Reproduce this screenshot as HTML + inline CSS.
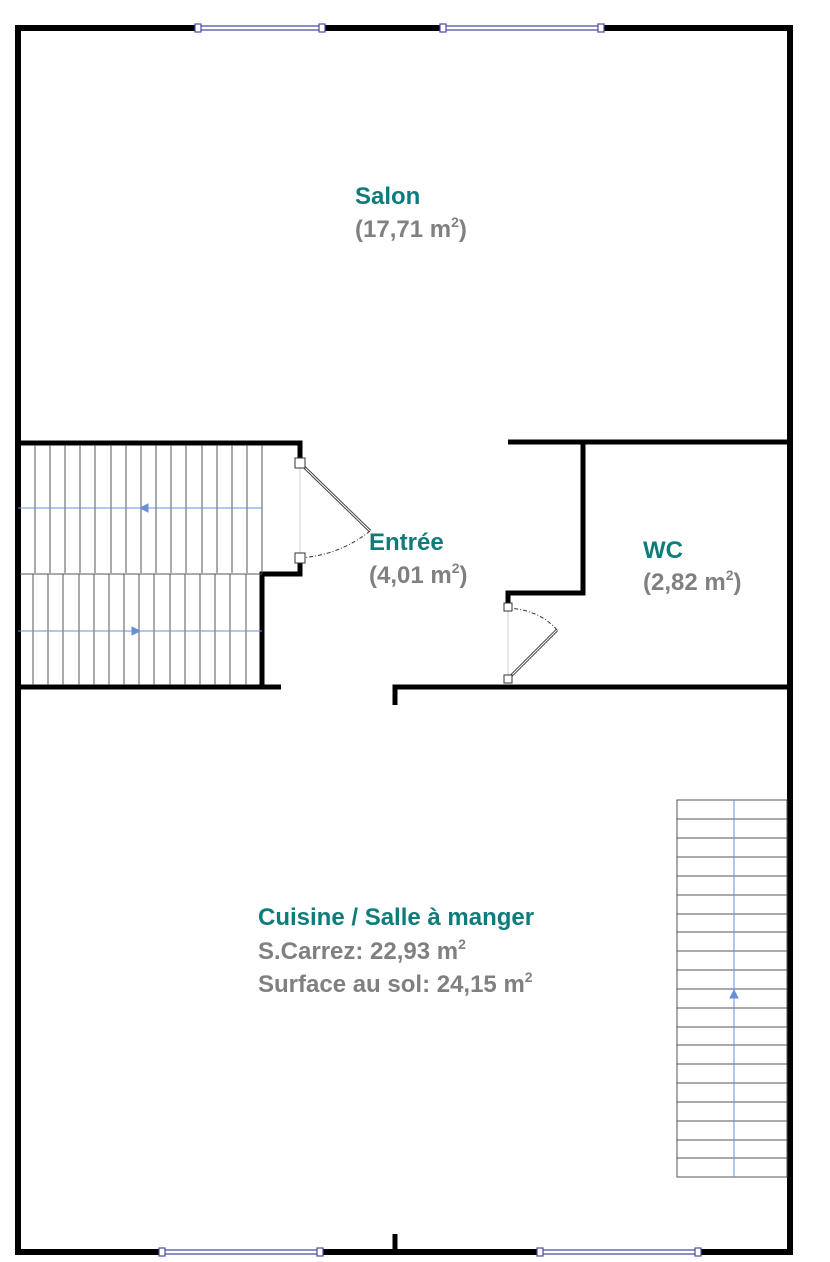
<!DOCTYPE html>
<html><head><meta charset="utf-8"><style>
html,body{margin:0;padding:0;background:#fff;}
svg{display:block;}
.t{font-family:"Liberation Sans",sans-serif;font-weight:bold;font-size:24px;}
.n{fill:#0e7c7b;}
.g{fill:#808080;}
</style></head><body>
<svg width="830" height="1262" viewBox="0 0 830 1262" xmlns="http://www.w3.org/2000/svg">
<g stroke="#000" fill="none" stroke-width="6">
  <line x1="15" y1="28" x2="198" y2="28"/>
  <line x1="322" y1="28" x2="443" y2="28"/>
  <line x1="601" y1="28" x2="793" y2="28"/>
  <line x1="18" y1="25" x2="18" y2="1255"/>
  <line x1="790" y1="25" x2="790" y2="1255"/>
  <line x1="15" y1="1252" x2="162" y2="1252"/>
  <line x1="320" y1="1252" x2="540" y2="1252"/>
  <line x1="698" y1="1252" x2="793" y2="1252"/>
  <line x1="395" y1="1234" x2="395" y2="1252" stroke-width="5"/>
  <polyline points="18,443 300,443 300,462" stroke-width="5"/>
  <polyline points="300,559 300,574 262,574 262,687" stroke-width="5"/>
  <line x1="18" y1="687" x2="281" y2="687" stroke-width="5"/>
  <line x1="508" y1="442" x2="790" y2="442" stroke-width="5"/>
  <polyline points="583,442 583,593 508,593 508,607" stroke-width="5"/>
  <polyline points="395,705 395,687 790,687" stroke-width="5"/>
</g>
<g stroke="#4a4aa0" stroke-width="1.2" fill="#fff">
  <line x1="198" y1="26" x2="322" y2="26"/><line x1="198" y1="30" x2="322" y2="30"/>
  <line x1="443" y1="26" x2="601" y2="26"/><line x1="443" y1="30" x2="601" y2="30"/>
  <line x1="162" y1="1250" x2="320" y2="1250"/><line x1="162" y1="1254" x2="320" y2="1254"/>
  <line x1="540" y1="1250" x2="698" y2="1250"/><line x1="540" y1="1254" x2="698" y2="1254"/>
  <rect x="195" y="24" width="6" height="8"/><rect x="319" y="24" width="6" height="8"/>
  <rect x="440" y="24" width="6" height="8"/><rect x="598" y="24" width="6" height="8"/>
  <rect x="159" y="1248" width="6" height="8"/><rect x="317" y="1248" width="6" height="8"/>
  <rect x="537" y="1248" width="6" height="8"/><rect x="695" y="1248" width="6" height="8"/>
</g>
<g stroke="#555" stroke-width="1">
  <line x1="35" y1="445" x2="35" y2="573"/><line x1="50" y1="445" x2="50" y2="573"/><line x1="65" y1="445" x2="65" y2="573"/><line x1="80" y1="445" x2="80" y2="573"/><line x1="95" y1="445" x2="95" y2="573"/><line x1="111" y1="445" x2="111" y2="573"/><line x1="126" y1="445" x2="126" y2="573"/><line x1="141" y1="445" x2="141" y2="573"/><line x1="156" y1="445" x2="156" y2="573"/><line x1="171" y1="445" x2="171" y2="573"/><line x1="186" y1="445" x2="186" y2="573"/><line x1="202" y1="445" x2="202" y2="573"/><line x1="217" y1="445" x2="217" y2="573"/><line x1="232" y1="445" x2="232" y2="573"/><line x1="247" y1="445" x2="247" y2="573"/><line x1="262" y1="445" x2="262" y2="573"/>
  <line x1="20" y1="574" x2="262" y2="574"/>
  <line x1="33" y1="574" x2="33" y2="685"/><line x1="48" y1="574" x2="48" y2="685"/><line x1="63" y1="574" x2="63" y2="685"/><line x1="79" y1="574" x2="79" y2="685"/><line x1="94" y1="574" x2="94" y2="685"/><line x1="109" y1="574" x2="109" y2="685"/><line x1="124" y1="574" x2="124" y2="685"/><line x1="139" y1="574" x2="139" y2="685"/><line x1="154" y1="574" x2="154" y2="685"/><line x1="170" y1="574" x2="170" y2="685"/><line x1="185" y1="574" x2="185" y2="685"/><line x1="200" y1="574" x2="200" y2="685"/><line x1="215" y1="574" x2="215" y2="685"/><line x1="230" y1="574" x2="230" y2="685"/><line x1="246" y1="574" x2="246" y2="685"/>
</g>
<g stroke="#6a8fd8" stroke-width="1" fill="#6a8fd8">
  <line x1="18" y1="508" x2="262" y2="508"/>
  <polygon points="140,508 148,504 148,512"/>
  <line x1="18" y1="631" x2="262" y2="631"/>
  <polygon points="140,631 132,627 132,635"/>
</g>
<g stroke="#555" stroke-width="1" fill="none">
  <rect x="677" y="800" width="110" height="377"/>
  <line x1="677" y1="819" x2="787" y2="819"/><line x1="677" y1="838" x2="787" y2="838"/><line x1="677" y1="857" x2="787" y2="857"/><line x1="677" y1="876" x2="787" y2="876"/><line x1="677" y1="895" x2="787" y2="895"/><line x1="677" y1="914" x2="787" y2="914"/><line x1="677" y1="932" x2="787" y2="932"/><line x1="677" y1="951" x2="787" y2="951"/><line x1="677" y1="970" x2="787" y2="970"/><line x1="677" y1="989" x2="787" y2="989"/><line x1="677" y1="1008" x2="787" y2="1008"/><line x1="677" y1="1027" x2="787" y2="1027"/><line x1="677" y1="1045" x2="787" y2="1045"/><line x1="677" y1="1064" x2="787" y2="1064"/><line x1="677" y1="1083" x2="787" y2="1083"/><line x1="677" y1="1102" x2="787" y2="1102"/><line x1="677" y1="1121" x2="787" y2="1121"/><line x1="677" y1="1140" x2="787" y2="1140"/><line x1="677" y1="1158" x2="787" y2="1158"/>
</g>
<g stroke="#6a8fd8" stroke-width="1" fill="#6a8fd8">
  <line x1="734" y1="800" x2="734" y2="1177"/>
  <polygon points="734,990 730,998 738,998"/>
</g>
<g fill="none">
  <line x1="300" y1="463" x2="300" y2="558" stroke="#ccc" stroke-width="1"/>
  <line x1="300" y1="463" x2="370" y2="531" stroke="#444" stroke-width="3"/>
  <line x1="300" y1="463" x2="370" y2="531" stroke="#fff" stroke-width="1"/>
  <path d="M370,531 Q340,555 300,558" stroke="#333" stroke-width="1" stroke-dasharray="4,2,1,2"/>
  <line x1="508" y1="608" x2="508" y2="679" stroke="#ccc" stroke-width="1"/>
  <line x1="508" y1="679" x2="557" y2="630" stroke="#444" stroke-width="3"/>
  <line x1="508" y1="679" x2="557" y2="630" stroke="#fff" stroke-width="1"/>
  <path d="M557,630 Q540,610 508,608" stroke="#333" stroke-width="1" stroke-dasharray="4,2,1,2"/>
  <g stroke="#333" stroke-width="1" fill="#fff">
    <rect x="295" y="458" width="10" height="10"/><rect x="295" y="553" width="10" height="10"/>
    <rect x="504" y="603" width="8" height="8"/><rect x="504" y="675" width="8" height="8"/>
  </g>
</g>
<text class="t n" x="355" y="204">Salon</text>
<text class="t g" x="355" y="237">(17,71 m<tspan font-size="14" dy="-10">2</tspan><tspan dy="10">)</tspan></text>
<text class="t n" x="369" y="550">Entrée</text>
<text class="t g" x="369" y="583">(4,01 m<tspan font-size="14" dy="-10">2</tspan><tspan dy="10">)</tspan></text>
<text class="t n" x="643" y="558">WC</text>
<text class="t g" x="643" y="590">(2,82 m<tspan font-size="14" dy="-10">2</tspan><tspan dy="10">)</tspan></text>
<text class="t n" x="258" y="925">Cuisine / Salle à manger</text>
<text class="t g" x="258" y="959">S.Carrez: 22,93 m<tspan font-size="14" dy="-10">2</tspan></text>
<text class="t g" x="258" y="992">Surface au sol: 24,15 m<tspan font-size="14" dy="-10">2</tspan></text>
</svg>
</body></html>
